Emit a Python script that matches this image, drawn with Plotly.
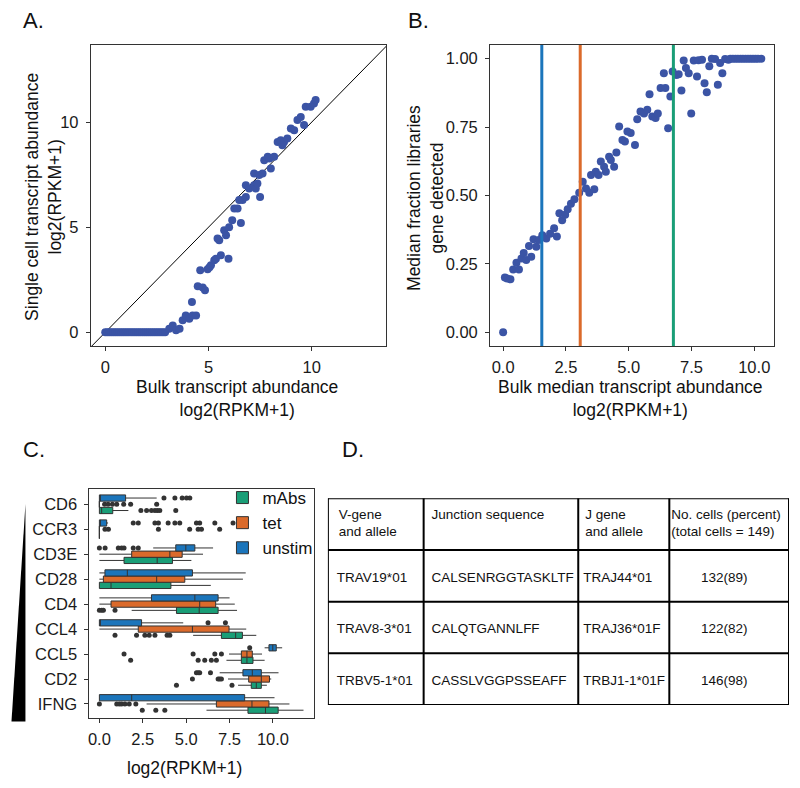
import plotly.graph_objects as go

# the page body keeps an 8px margin, so the figure is drawn 16px smaller
# and every layout position below is given in pixels of the full 800x788 page
PAGE_W, PAGE_H, BODY = 800, 788, 8
W, H = PAGE_W - 2 * BODY, PAGE_H - 2 * BODY
FONT = "Liberation Sans, Arial, sans-serif"

# ---- panel A: single cell vs bulk abundance
bulk_a = [0.0, 0.1, 0.2, 0.3, 0.4, 0.5, 0.6, 0.7, 0.8, 0.9, 1.0, 1.1, 1.2, 1.3, 1.4,
          1.5, 1.6, 1.7, 1.8, 1.9, 2.0, 2.1, 2.2, 2.3, 2.4, 2.5, 2.6, 2.7, 2.8, 2.9,
          3.1, 3.27, 3.43, 3.6, 3.75, 3.9, 4.07, 4.2, 4.23, 4.4, 4.48, 4.72, 4.83, 4.6,
          4.96, 5.05, 5.12, 5.28, 5.36, 5.6, 5.97, 5.44, 5.52, 5.76, 5.85, 6.0, 6.15,
          6.57, 6.25, 6.41, 6.49, 6.65, 6.81, 6.81, 6.97, 7.21, 7.29, 7.37, 7.5, 7.21,
          7.46, 7.62, 8.02, 7.7, 7.87, 7.95, 8.18, 8.35, 8.5, 8.66, 8.82, 8.58, 8.99,
          9.15, 9.31, 9.47, 9.63, 9.71, 9.95, 10.11, 10.19]
single_a = [0, 0, 0, 0, 0, 0, 0, 0, 0, 0, 0, 0, 0, 0, 0,
            0, 0, 0, 0, 0, 0, 0, 0, 0, 0, 0, 0, 0, 0, 0,
            0.17, 0.33, 0.1, 0.17, 0.57, 0.8, 0.65, 1.44, 0.8, 0.8, 2.19, 2.13, 2.0, 2.95,
            3.0, 3.1, 3.19, 3.43, 3.5, 3.67, 3.5, 4.46, 4.38, 4.86, 4.62, 5.0, 5.33,
            5.2, 5.89, 5.89, 6.29, 6.29, 6.44, 7.0, 6.84, 7.0, 6.84, 7.08, 6.44, 7.56,
            7.48, 7.56, 7.79, 8.19, 8.35, 8.27, 8.35, 9.06, 9.14, 9.06, 9.22, 8.9, 9.7,
            9.62, 10.1, 10.25, 9.86, 10.73, 10.73, 10.89, 11.05]

# ---- panel B: fraction of libraries detecting the gene
bulk_b = [0.0, 0.07, 0.16, 0.29, 0.4, 0.53, 0.63, 0.73, 0.82, 0.92, 1.03, 1.12, 1.21,
          1.32, 1.42, 1.56, 1.72, 1.87, 2.03, 2.14, 2.24, 2.35, 2.47, 2.57, 2.7, 2.84,
          3.03, 3.17, 3.3, 3.43, 3.5, 3.63, 3.69, 3.8, 3.89, 4.02, 4.09, 4.22, 4.29,
          4.42, 4.51, 4.62, 4.75, 4.85, 4.95, 5.08, 5.25, 5.34, 5.47, 5.61, 5.74, 5.83,
          5.94, 6.07, 6.16, 6.27, 6.4, 6.46, 6.57, 6.66, 6.75, 6.9, 6.99, 7.1, 7.19,
          7.28, 7.39, 7.49, 7.59, 7.72, 7.78, 7.92, 8.02, 8.11, 8.21, 8.31, 8.44, 8.55,
          8.64, 8.73, 8.84, 8.97, 9.05, 9.15, 9.25, 9.35, 9.45, 9.55, 9.65, 9.75, 9.85,
          9.95, 10.05, 10.15, 10.28]
frac_b = [0.0, 0.2, 0.197, 0.194, 0.23, 0.254, 0.23, 0.27, 0.29, 0.264, 0.315, 0.276,
          0.34, 0.313, 0.337, 0.355, 0.343, 0.36, 0.38, 0.35, 0.435, 0.41, 0.43, 0.45,
          0.47, 0.486, 0.51, 0.55, 0.526, 0.51, 0.575, 0.523, 0.587, 0.575, 0.624, 0.605,
          0.587, 0.642, 0.63, 0.605, 0.657, 0.752, 0.703, 0.697, 0.734, 0.728, 0.685,
          0.779, 0.807, 0.8, 0.813, 0.87, 0.789, 0.783, 0.8, 0.893, 0.947, 0.893, 0.746,
          0.862, 0.953, 0.94, 0.943, 0.884, 0.993, 0.966, 0.947, 0.8, 0.993, 0.935,
          0.994, 0.996, 0.91, 0.877, 0.972, 1.0, 0.999, 0.905, 0.984, 0.947, 0.999,
          0.996, 1.0, 1.0, 1.0, 1.0, 1.0, 1.0, 1.0, 1.0, 1.0, 1.0, 1.0, 1.0, 1.0]
threshold_cond = ["unstim", "tet", "mAbs"]
threshold_b = [1.54, 3.07, 6.78]

# ---- panel C: boxplots per gene and condition
genes = ["CD6", "CCR3", "CD3E", "CD28", "CD4", "CCL4", "CCL5", "CD2", "IFNG"]
conditions = ["mAbs", "tet", "unstim"]

lower = {
    "unstim": [0, 0, 3.1, 0, 0, 0, 9.52, 6.93, 0],
    "tet":    [0, 0, 0, 0, 0, 0, 7.47, 7.41, 2.72],
    "mAbs":   [0, 0, 0, 0, 1.86, 5.4, 7.32, 7.99, 6.17],
}
q1 = {
    "unstim": [0, 0, 4.4, 0.32, 3.0, 0, 9.77, 8.27, 0],
    "tet":    [0, 0, 1.86, 0.23, 0.67, 2.24, 8.18, 8.6, 6.74],
    "mAbs":   [0, 0, 1.42, 0, 4.44, 7.03, 8.18, 8.75, 8.56],
}
median = {
    "unstim": [0, 0, 4.98, 1.61, 5.5, 0, 9.99, 8.81, 1.86],
    "tet":    [0, 0, 4.06, 3.3, 5.78, 5.36, 8.5, 9.33, 8.79],
    "mAbs":   [0.13, 0, 3.33, 0.67, 5.75, 7.85, 8.5, 9.04, 9.57],
}
q3 = {
    "unstim": [1.51, 0.42, 5.5, 5.36, 6.84, 2.43, 10.19, 9.33, 8.37],
    "tet":    [0, 0, 4.77, 4.92, 6.7, 7.47, 8.81, 9.8, 9.77],
    "mAbs":   [0.77, 0, 4.21, 4.12, 6.84, 8.24, 8.85, 9.33, 10.3],
}
upper = {
    "unstim": [3.3, 0.5, 6.55, 8.43, 7.5, 4.83, 10.53, 10.32, 10.09],
    "tet":    [0, 0, 5.97, 8.27, 7.8, 8.46, 9.37, 9.9, 10.95],
    "mAbs":   [1.67, 0, 5.3, 6.42, 7.93, 9.04, 9.52, 9.65, 11.76],
}
outliers = {
    "unstim": {"CD6": [3.72, 4.35, 4.77, 5.02, 5.21],
               "CCR3": [1.95, 2.24, 3.2, 3.4, 3.96, 4.35, 4.63, 5.59, 5.78, 6.65, 7.7],
               "CD3E": [0, 0.33, 1.09, 1.28, 1.42, 1.95, 2.24],
               "CCL4": [6.26, 7.26],
               "CCL5": [8.66],
               "CD2": [5.59, 5.69, 5.78, 6.4]},
    "tet": {"CD6": [0.3, 0.5, 0.75, 1.0, 1.4, 1.8, 3.3],
            "CCR3": [0.32, 0.52, 3.4, 5.2, 5.69, 5.88, 6.93],
            "CCL5": [1.42, 5.4, 6.65, 7.03],
            "CD2": [5.36, 6.84, 6.93, 7.03],
            "IFNG": [0, 1.0, 1.15, 1.28, 1.47, 1.72, 2.1]},
    "mAbs": {"CD6": [2.39, 2.72, 3.0, 3.2, 3.34, 3.48, 4.4],
             "CD4": [0, 0.13, 0.23, 0.9],
             "CCL4": [0.9, 2.14, 2.62, 2.87, 3.2, 3.9, 4.06],
             "CCL5": [1.8, 5.69, 6.07, 6.45, 6.74],
             "CD2": [4.44, 7.64],
             "IFNG": [2.47, 3.25, 3.77]},
}

# ---- panel D: clonotype table
table_header = ["V-gene<br>and allele", "Junction sequence", "J gene<br>and allele",
                "No. cells (percent)<br>(total cells = 149)"]
v_genes = ["TRAV19*01", "TRAV8-3*01", "TRBV5-1*01"]
junctions = ["CALSENRGGTASKLTF", "CALQTGANNLFF", "CASSLVGGPSSEAFF"]
j_genes = ["TRAJ44*01", "TRAJ36*01F", "TRBJ1-1*01F"]
n_cells = [132, 122, 146]
pct_cells = [89, 82, 98]

COLORS = {"unstim": "#1b75bb", "tet": "#db6a2b", "mAbs": "#1a9e77"}
POINT = "#3b54a5"
OFFSET = {"unstim": 0.25, "tet": 0.0, "mAbs": -0.25}


def fx(x):
    return (x - BODY) / W


def fy(y):
    return 1 - (y - BODY) / H


fig = go.Figure()

# A
fig.add_trace(go.Scatter(x=[-1, 14], y=[-1, 14], mode="lines",
                         line=dict(color="black", width=1), xaxis="x", yaxis="y",
                         showlegend=False, hoverinfo="skip"))
fig.add_trace(go.Scatter(x=bulk_a, y=single_a, mode="markers",
                         marker=dict(color=POINT, size=8), xaxis="x", yaxis="y",
                         showlegend=False))

# B
fig.add_trace(go.Scatter(x=bulk_b, y=frac_b, mode="markers",
                         marker=dict(color=POINT, size=8), xaxis="x2", yaxis="y2",
                         showlegend=False))

# C
gene_pos = {g: len(genes) - 1 - i for i, g in enumerate(genes)}
for cond in conditions:
    pos = [gene_pos[g] + OFFSET[cond] for g in genes]
    fig.add_trace(go.Box(y=pos, q1=q1[cond], median=median[cond], q3=q3[cond],
                         lowerfence=lower[cond], upperfence=upper[cond],
                         orientation="h", width=0.25, whiskerwidth=0,
                         fillcolor=COLORS[cond], line=dict(color="#333333", width=1),
                         name=cond, xaxis="x3", yaxis="y3", boxpoints=False))
for cond in conditions:
    ox, oy = [], []
    for g, vals in outliers[cond].items():
        ox += vals
        oy += [gene_pos[g] + OFFSET[cond]] * len(vals)
    fig.add_trace(go.Scatter(x=ox, y=oy, mode="markers",
                             marker=dict(color="#333333", size=5),
                             xaxis="x3", yaxis="y3", showlegend=False))

# D: table on its own invisible axes
col_widths = [96, 155, 91.3, 120]
col_edges = [0]
for w in col_widths:
    col_edges.append(col_edges[-1] + w)
header_pad = [11, 8, 7, 2]
body_pad = [9, 8, 5]
rows = [v_genes, junctions, j_genes]
cell_font = dict(size=13.5, color="#111111", family=FONT)

fig.add_trace(go.Scatter(
    x=[col_edges[i] + header_pad[i] for i in range(4)], y=[0.2] * 4,
    text=table_header, mode="text", textposition="bottom right", textfont=cell_font,
    xaxis="x4", yaxis="y4", showlegend=False, hoverinfo="skip"))
for c, col in enumerate(rows):
    fig.add_trace(go.Scatter(
        x=[col_edges[c] + body_pad[c]] * len(col), y=[r + 1.55 for r in range(len(col))],
        text=col, mode="text", textposition="middle right", textfont=cell_font,
        xaxis="x4", yaxis="y4", showlegend=False, hoverinfo="skip"))
fig.add_trace(go.Scatter(
    x=[(col_edges[3] + col_edges[4]) / 2 - 5] * 3, y=[r + 1.55 for r in range(3)],
    text=[f"{n}({p})" for n, p in zip(n_cells, pct_cells)], mode="text",
    textposition="middle center", textfont=cell_font,
    xaxis="x4", yaxis="y4", showlegend=False, hoverinfo="skip"))

shapes = []
for e in col_edges:
    shapes.append(dict(type="line", xref="x4", yref="y4", x0=e, x1=e, y0=0, y1=4,
                       line=dict(color="black", width=2)))
for r in range(5):
    shapes.append(dict(type="line", xref="x4", yref="y4", x0=0, x1=col_edges[-1],
                       y0=r, y1=r, line=dict(color="black", width=2)))
for cond, v in zip(threshold_cond, threshold_b):
    shapes.append(dict(type="line", xref="x2", yref="y2 domain", x0=v, x1=v, y0=0, y1=1,
                       line=dict(color=COLORS[cond], width=3)))
# expression wedge next to panel C
shapes.append(dict(type="path", xref="paper", yref="paper",
                   path=f"M {fx(23.5)},{fy(504)} L {fx(23.5)},{fy(721.5)} L {fx(9.5)},{fy(721.5)} Z",
                   fillcolor="black", line=dict(width=0)))

axis = dict(showline=True, linecolor="#333333", linewidth=1, mirror=True,
            ticks="outside", ticklen=4, tickcolor="#333333", showgrid=False,
            zeroline=False, tickfont=dict(size=16.5, color="#1a1a1a", family=FONT))
xaxis_style = dict(axis, ticklabelstandoff=2)
yaxis_style = dict(axis, ticklabelstandoff=4)
hidden = dict(visible=False, showgrid=False, zeroline=False)

annotations = []


def note(text, x, y, size=17.5, angle=0, xanchor="center"):
    annotations.append(dict(text=text, x=fx(x), y=fy(y), xref="paper", yref="paper",
                            showarrow=False, textangle=angle, xanchor=xanchor,
                            yanchor="middle", font=dict(size=size, color="#111111",
                                                        family=FONT)))


note("A.", 19, 21, size=22, xanchor="left")
note("B.", 405, 21, size=22, xanchor="left")
note("C.", 19, 449, size=22, xanchor="left")
note("D.", 339, 449, size=22, xanchor="left")
note("Bulk transcript abundance<br>log2(RPKM+1)", 236, 398)
note("Single cell transcript abundance<br>log2(RPKM+1)", 41, 197, angle=-90)
note("Bulk median transcript abundance<br>log2(RPKM+1)", 630, 398)
note("Median fraction libraries<br>gene detected", 424, 198, angle=-90)
note("log2(RPKM+1)", 182.5, 768)

fig.update_layout(
    width=W, height=H, margin=dict(l=0, r=0, t=0, b=0),
    paper_bgcolor="white", plot_bgcolor="white",
    font=dict(family=FONT, color="#111111"),
    xaxis=dict(xaxis_style, domain=[fx(89), fx(385)], range=[-0.7, 13.6],
               tickvals=[0, 5, 10], anchor="y"),
    yaxis=dict(yaxis_style, domain=[fy(346), fy(45)], range=[-0.65, 13.67],
               tickvals=[0, 5, 10], anchor="x"),
    xaxis2=dict(xaxis_style, domain=[fx(489.3), fx(774.3)], range=[-0.52, 10.8],
                tickvals=[0, 2.5, 5, 7.5, 10], tickformat=".1f", anchor="y2"),
    yaxis2=dict(yaxis_style, domain=[fy(346), fy(45)], range=[-0.05, 1.05],
                tickvals=[0, 0.25, 0.5, 0.75, 1], tickformat=".2f", anchor="x2"),
    xaxis3=dict(xaxis_style, domain=[fx(87.7), fx(312.7)], range=[-0.57, 12.36],
                tickvals=[0, 2.5, 5, 7.5, 10], tickformat=".1f", anchor="y3"),
    yaxis3=dict(yaxis_style, domain=[fy(717.7), fy(489.3)], range=[-0.55, 8.6],
                tickvals=[gene_pos[g] for g in genes], ticktext=genes, anchor="x3"),
    xaxis4=dict(hidden, domain=[fx(326.7), fx(789)], range=[0, col_edges[-1]], anchor="y4"),
    yaxis4=dict(hidden, domain=[fy(705), fy(498.3)], range=[4, 0], anchor="x4"),
    legend=dict(x=fx(221), y=fy(480), xanchor="left", yanchor="top",
                bgcolor="rgba(0,0,0,0)", font=dict(size=17, family=FONT, color="#111111"),
                itemwidth=30),
    shapes=shapes, annotations=annotations,
)

fig.write_html("out.html")
